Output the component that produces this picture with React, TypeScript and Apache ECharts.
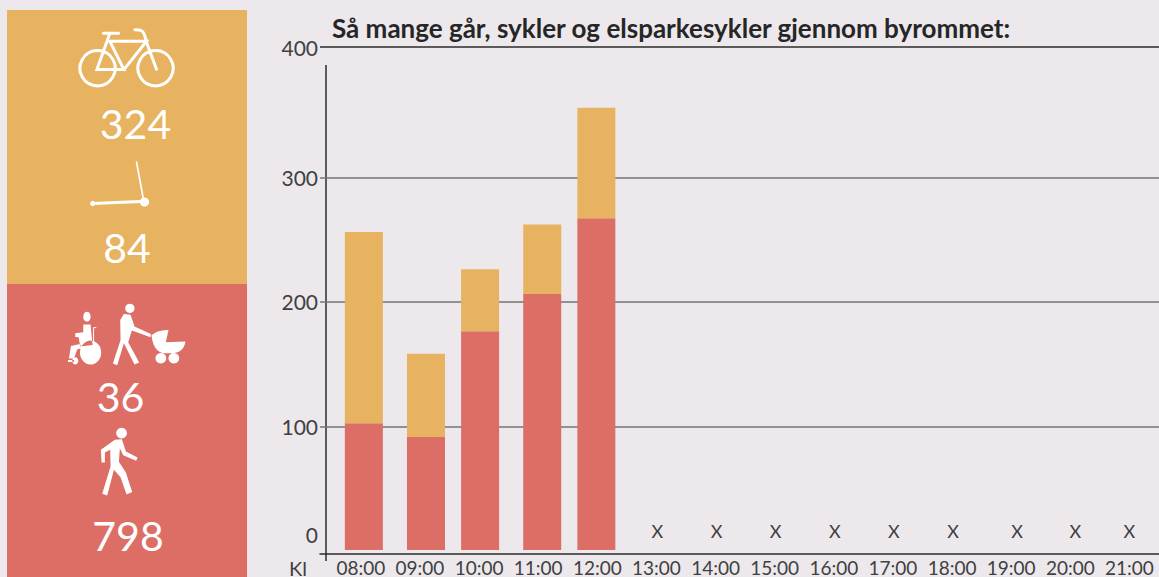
import React, { useEffect, useRef } from "react";
import * as echarts from "echarts";

const hours = ["08:00","09:00","10:00","11:00","12:00","13:00","14:00","15:00","16:00","17:00","18:00","19:00","20:00","21:00"];
const walkers = [102, 91, 176, 206, 267];
const riders = [154, 67, 50, 56, 89];
const barNudgePx = [3, 6, 1, 4, -1];
const noDataHours = [5, 6, 7, 8, 9, 10, 11, 12, 13];
const noDataNudgePx = [1, 1, 1, 1, 1, 1, 6, 5, 0];
const yTicks = ["0", "100", "200", "300", "400"];
const totals = { bikes: "324", scooters: "84", assisted: "36", walking: "798" };

const BG = "#ece8ec", YELLOW = "#e8b360", RED = "#dd6e66", DARK = "#2b2b2b", GRID = "#757375", TXT = "#404040";
const TOP = 404.8; // the top rule sits a little above the 400 step in the source

const paths: Record<string, string> = {
  bikeStroke:
    "M293,152a53,53 0 1,0 .1,0Z M467,152a53,53 0 1,0 .1,0Z M311,100H356 M330,100L291,209H372L330,124H440L372,209 M443,135L470,208 M405,89C422,89 431,90 436,112L443,135",
  scooterDeck: "M278,611L420,605",
  scooterBar: "M410,487L430,595",
  chair:
    "M261,95a11,15 0 1,0 .1,0Z M250,134L272,134L278,195L241,200L236,172L226,171L226,160L250,157Z M240,192L213,198L207,236L222,236L232,208L246,205Z M272,182a32,36 0 1,0 .1,0Z M204,240L222,240L222,246L204,246Z M226,232a9,11 0 1,0 .1,0Z",
  chairBar: "M288,143H281V190",
  walker:
    "M390,71a14,14 0 1,0 .1,0Z M372,102L392,104L404,140L453,162L452,172L396,152L385,187L418,248L404,254L372,190L352,256L339,251L362,180L361,120Z",
  stroller:
    "M455,166C472,152 490,150 506,150L498,187L557,185C553,208 540,218 520,220L490,220C468,214 458,195 455,166Z M483,219a16,16 0 1,0 .1,0Z M522,219a16,16 0 1,0 .1,0Z",
  pedestrian:
    "M365,444a16,16 0 1,0 .1,0Z M345,480L366,478L378,515L413,533L409,543L370,526L360,505L357,546L378,578L397,637L380,644L362,592L342,570L322,647L307,642L332,560L331,510L315,518L315,548L305,548L303,510Z",
};
Object.keys(paths).forEach((k) => {
  echarts.graphic.registerShape("ico_" + k, echarts.graphic.extendPath(paths[k], {}));
});

const icon = (k: string, oy: number, style: any) => ({
  type: "ico_" + k, x: 0, y: oy, scaleX: 1 / 3, scaleY: 1 / 3, style,
});
const fillW = { fill: "#fff" };
const strokeW = (w: number) => ({ fill: "none", stroke: "#fff", lineWidth: w * 3, lineCap: "round" });
const bigNum = (text: string, x: number, y: number) => ({
  type: "text", x, y,
  style: { text, fill: "#fff", font: "41px Lato", align: "center", verticalAlign: "middle" },
});

const stackItem = (api: any) => {
  const low = api.coord([api.value(0), api.value(1)]);
  const high = api.coord([api.value(0), api.value(2)]);
  return {
    type: "rect",
    shape: { x: low[0] - 19 + api.value(3), y: high[1], width: 38, height: low[1] - high[1] },
    style: { fill: api.visual("color") },
  };
};

export default function App() {
  const ref = useRef<HTMLDivElement>(null);
  useEffect(() => {
    document.body.style.margin = "0";
    document.body.style.overflow = "hidden";
    const chart = echarts.init(ref.current!, undefined, { renderer: "svg" });
    chart.setOption({
      animation: false,
      backgroundColor: BG,
      title: {
        text: "Så mange går, sykler og elsparkesykler gjennom byrommet:",
        left: 327, top: 10,
        textStyle: { fontFamily: "Lato", fontWeight: "bold", fontSize: 26, color: "#262626" },
      },
      grid: [
        { left: 320, right: 0, top: 47, height: 504 },
        { left: 331.3, right: -4, top: 47, height: 504 },
      ],
      xAxis: [
        {
          gridIndex: 0, type: "value", min: 0, max: 1, offset: 2.7,
          axisLine: { show: true, onZero: false, lineStyle: { color: DARK, width: 1.5 } },
          axisTick: { show: false }, axisLabel: { show: false }, splitLine: { show: false },
        },
        {
          gridIndex: 1, type: "category", data: hours,
          axisLine: { show: false }, axisTick: { show: false },
          axisLabel: { interval: 0, margin: 8, fontFamily: "Lato", fontSize: 19, color: TXT },
        },
      ],
      yAxis: [
        {
          gridIndex: 0, type: "value", min: 0, max: TOP, interval: 100,
          axisLine: { show: false }, axisTick: { show: false },
          axisLabel: {
            margin: 2, fontFamily: "Lato", fontSize: 21, color: TXT, padding: [0, 0, 3, 0],
            formatter: (v: number) => (v === TOP ? yTicks[4] : v === 0 || v === 400 ? "" : String(v)),
          },
          splitLine: {
            show: true,
            lineStyle: { width: 1.5, color: ["transparent", GRID, GRID, GRID, "transparent", DARK] },
          },
        },
        { gridIndex: 1, type: "value", min: 0, max: TOP, show: false, splitLine: { show: false } },
      ],
      series: [
        {
          type: "custom", xAxisIndex: 1, yAxisIndex: 1, renderItem: (_: any, api: any) => stackItem(api),
          itemStyle: { color: RED }, encode: { x: 0, y: 2 },
          data: walkers.map((v, i) => [i, 0, v, barNudgePx[i]]),
        },
        {
          type: "custom", xAxisIndex: 1, yAxisIndex: 1, renderItem: (_: any, api: any) => stackItem(api),
          itemStyle: { color: YELLOW }, encode: { x: 0, y: 2 },
          data: riders.map((v, i) => [i, walkers[i], walkers[i] + v, barNudgePx[i]]),
        },
        {
          type: "custom", xAxisIndex: 1, yAxisIndex: 1, encode: { x: 0, y: 1 },
          renderItem: (_: any, api: any) => {
            const p = api.coord([api.value(0), api.value(1)]);
            return {
              type: "text", x: p[0] + api.value(2), y: p[1],
              style: { text: "X", fill: TXT, font: "18px Lato", align: "center", verticalAlign: "middle" },
            };
          },
          data: noDataHours.map((h, i) => [h, 15, noDataNudgePx[i]]),
        },
      ],
      graphic: [
        { type: "rect", shape: { x: 7, y: 10, width: 240, height: 274 }, style: { fill: YELLOW } },
        { type: "rect", shape: { x: 7, y: 284, width: 240, height: 293 }, style: { fill: RED } },
        icon("bikeStroke", 0, { ...strokeW(3) }),
        icon("scooterDeck", 0, { ...strokeW(3) }),
        icon("scooterBar", 0, { ...strokeW(1.7) }),
        { type: "circle", shape: { cx: 92.7, cy: 203.5, r: 2.6 }, style: fillW },
        { type: "circle", shape: { cx: 144.5, cy: 202, r: 4.6 }, style: fillW },
        icon("chair", 280, fillW),
        icon("chairBar", 280, { ...strokeW(1) }),
        icon("walker", 280, fillW),
        icon("stroller", 280, fillW),
        icon("pedestrian", 280, fillW),
        bigNum(totals.bikes, 135.5, 123),
        bigNum(totals.scooters, 127, 247),
        bigNum(totals.assisted, 120.5, 396),
        bigNum(totals.walking, 128, 535),
        { type: "line", shape: { x1: 326, y1: 65, x2: 326, y2: 561 }, style: { stroke: DARK, lineWidth: 1.5 } },
        {
          type: "text", x: 318, y: 534,
          style: { text: yTicks[0], fill: TXT, font: "21px Lato", align: "right", verticalAlign: "middle" },
        },
        {
          type: "text", x: 298, y: 568,
          style: { text: "Kl", fill: TXT, font: "20px Lato", align: "center", verticalAlign: "middle" },
        },
      ],
    });
    return () => chart.dispose();
  }, []);
  return <div ref={ref} style={{ width: 1159, height: 577 }} />;
}
